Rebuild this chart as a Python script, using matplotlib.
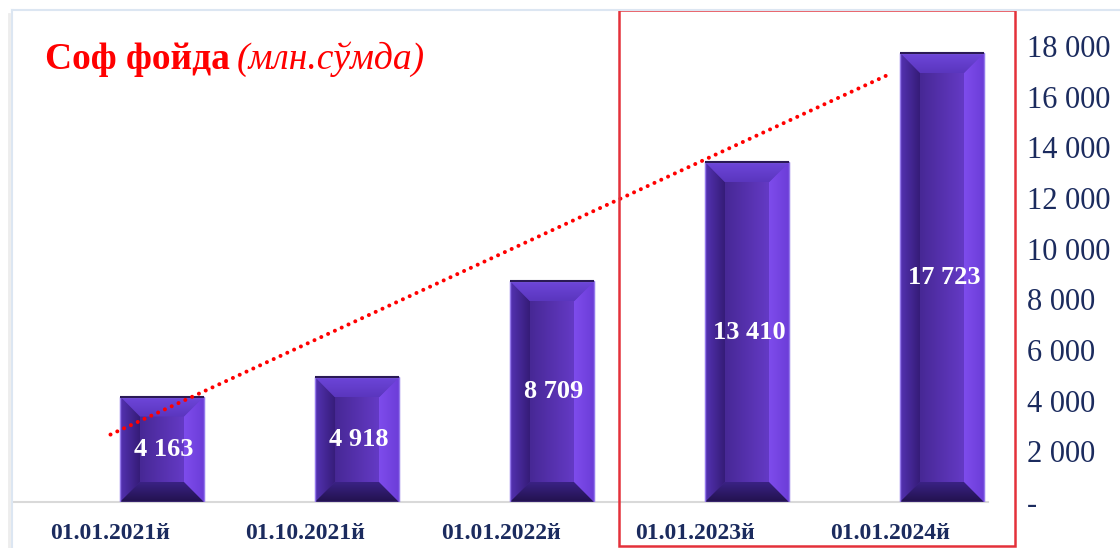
import numpy as np
import matplotlib
matplotlib.use("Agg")
import matplotlib.pyplot as plt
from matplotlib.patches import Polygon, Rectangle
from matplotlib.colors import to_rgb
from matplotlib.lines import Line2D

categories = ["01.01.2021й", "01.10.2021й", "01.01.2022й", "01.01.2023й", "01.01.2024й"]
values = [4163, 4918, 8709, 13410, 17723]
value_labels = ["4 163", "4 918", "8 709", "13 410", "17 723"]
y_ticks = [0, 2000, 4000, 6000, 8000, 10000, 12000, 14000, 16000, 18000]
title_bold = "Соф фойда "
title_italic = "(млн.сўмда)"

plt.rcParams['font.family'] = ['Liberation Serif', 'DejaVu Serif']

W, H = 1120, 548
fig = plt.figure(figsize=(W / 100, H / 100), dpi=100)
fig.patch.set_facecolor('white')

def fx(px):
    return px / W

def fy(py):
    return 1 - py / H

ax = fig.add_axes([fx(13), fy(502), fx(988) - fx(13), fy(46) - fy(502)])
ax.set_xlim(-0.5, len(categories) - 0.5)
ax.set_ylim(0, 18000)
ax.set_facecolor('none')

navy = '#1B2B5E'
bar_off = 0.264
bar_w = 0.43
x = np.arange(len(categories))
bars = ax.bar(x + bar_off, values, width=bar_w, color='#4A2B9C',
              edgecolor='#8C70E8', linewidth=0.8, zorder=2)

# pixel -> data conversions
px_x = (ax.get_xlim()[1] - ax.get_xlim()[0]) / (fx(988) - fx(13)) / W
px_y = 18000 / (502 - 46)
bev = 20

def grad_fill(poly, c0, c1, horizontal=True, z=3):
    xs = [p[0] for p in poly]
    ys = [p[1] for p in poly]
    ext = (min(xs), max(xs), min(ys), max(ys))
    n = 64
    t = np.linspace(0, 1, n)
    a = np.array(to_rgb(c0))
    b = np.array(to_rgb(c1))
    cols = a[None, :] * (1 - t[:, None]) + b[None, :] * t[:, None]
    if horizontal:
        img = cols[None, :, :]
    else:
        img = cols[:, None, :]
    patch = Polygon(poly, closed=True, facecolor='none', edgecolor='none', transform=ax.transData)
    ax.add_patch(patch)
    im = ax.imshow(img, extent=ext, origin='lower', aspect='auto', zorder=z, interpolation='bilinear')
    im.set_clip_path(patch)

for rect in bars:
    x0 = rect.get_x()
    x1 = x0 + rect.get_width()
    h = rect.get_height()
    dx = bev * px_x
    dy = bev * px_y
    # front face gradient
    grad_fill([(x0, 0), (x1, 0), (x1, h), (x0, h)], '#3A2080', '#7142DA', True, 3)
    # left facet
    grad_fill([(x0, 0), (x0 + dx, dy), (x0 + dx, h - dy), (x0, h)], '#5432B2', '#351C78', True, 4)
    # right facet
    grad_fill([(x1, 0), (x1 - dx, dy), (x1 - dx, h - dy), (x1, h)], '#7E4CEC', '#6C3DD8', True, 4)
    # top facet
    grad_fill([(x0, h), (x1, h), (x1 - dx, h - dy), (x0 + dx, h - dy)], '#5A36BE', '#6E46DA', False, 4)
    # bottom facet
    grad_fill([(x0, 0), (x1, 0), (x1 - dx, dy), (x0 + dx, dy)], '#22124E', '#3A2284', False, 4)
    # outer border and dark top line
    ax.add_patch(Rectangle((x0, 0), x1 - x0, h, facecolor='none', edgecolor='#9478EC',
                           linewidth=1.0, zorder=5))
    ax.plot([x0, x1], [h, h], color='#2A1A55', linewidth=1.5, zorder=5, solid_capstyle='butt')

# data labels
for rect, lab in zip(bars, value_labels):
    ax.text(rect.get_x() + rect.get_width() / 2 + 0.01, rect.get_height() / 2, lab,
            ha='center', va='center', color='white', fontsize=19, fontweight='bold', zorder=7)

# linear trendline
coef = np.polyfit(x, values, 1)
trend = np.polyval(coef, x)
ax.plot(x, trend, color='#FF0000', linewidth=2.9, linestyle=(0, (0.01, 1.85)),
        dash_capstyle='round', zorder=6)

# axes styling
for s in ['top', 'left', 'right']:
    ax.spines[s].set_visible(False)
ax.spines['bottom'].set_color('#D9D9D9')
ax.spines['bottom'].set_linewidth(1.5)
ax.spines['bottom'].set_zorder(1)
ax.set_xticks(x)
ax.set_xticklabels(categories, fontsize=17, fontweight='bold', color=navy)
ax.tick_params(axis='x', length=0, pad=15)
ax.yaxis.tick_right()
ax.set_yticks(y_ticks)
ax.set_yticklabels(['-' if v == 0 else f"{v:,}".replace(",", " ") for v in y_ticks],
                   fontsize=22, color=navy, ha='left')
ax.tick_params(axis='y', length=0, pad=28)

# title
fig.text(fx(45), fy(69), title_bold, color='#FF0000', fontsize=27, fontweight='bold',
         ha='left', va='baseline')
fig.text(fx(237), fy(69), title_italic, color='#FF0000', fontsize=27, fontstyle='italic',
         ha='left', va='baseline')

# light chart frame
fig.add_artist(Line2D([fx(12), fx(12)], [fy(10), 0], color='#DCE6F2', linewidth=1.5))
fig.add_artist(Line2D([fx(12), 1], [fy(10), fy(10)], color='#DCE6F2', linewidth=1.5))
fig.add_artist(Line2D([fx(9), fx(9)], [fy(14), 0], color='#EDEDED', linewidth=2))

# red highlight box
fig.add_artist(Rectangle((fx(619), fy(546)), fx(1015) - fx(619), fy(10) - fy(546),
                         transform=fig.transFigure, facecolor='none', edgecolor='#E4313A',
                         linewidth=1.8))

fig.savefig('out.png', dpi=100, facecolor='white')
